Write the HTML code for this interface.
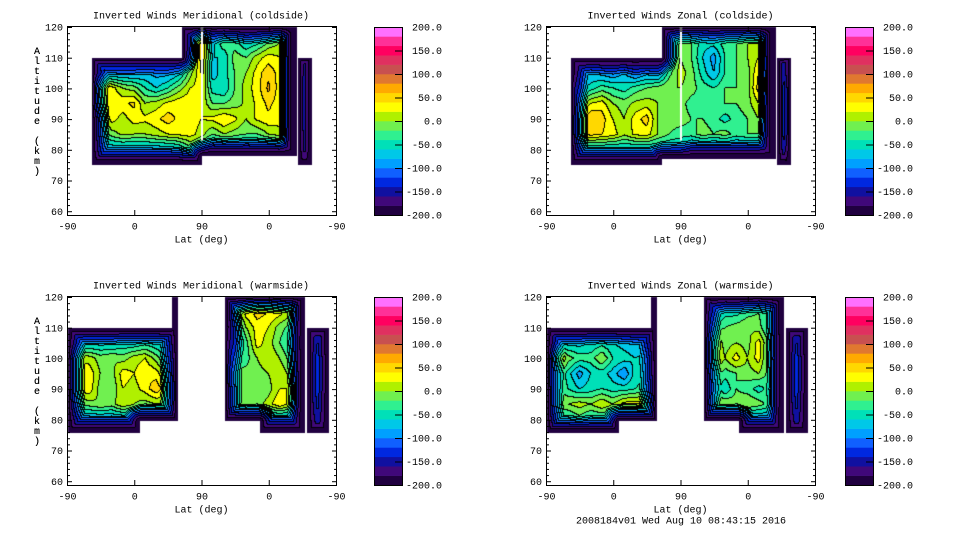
<!DOCTYPE html>
<html><head><meta charset="utf-8">
<style>
html,body{margin:0;padding:0;background:#fff;}
#root{position:relative;width:960px;height:540px;overflow:hidden;background:#fff;}
canvas{position:absolute;}
svg{position:absolute;left:0;top:0;}
text{font-family:"Liberation Mono","DejaVu Sans Mono",monospace;font-size:10px;fill:#000;}
</style></head>
<body>
<div id="root">
<canvas id="c1" width="270" height="189" style="left:67px;top:26px"></canvas>
<canvas id="c2" width="270" height="189" style="left:546px;top:26px"></canvas>
<canvas id="c3" width="270" height="189" style="left:67px;top:296px"></canvas>
<canvas id="c4" width="270" height="189" style="left:546px;top:296px"></canvas>
<svg id="ov" width="960" height="540"></svg>
</div>
<script>
const n = null;
const ALTS = [120,115,110,105,100,95,90,85,80,75];
const S_STEP = 15;
const LAT_LABELS = ['-90','0','90','0','-90'];
const Y_TICKS = [60,70,80,90,100,110,120];
const CB_LABELS = ['200.0','150.0','100.0','50.0','0.0','-50.0','-100.0','-150.0','-200.0'];
const BAND_COLORS = ['#200040','#40087a','#1010a0','#0028e0','#1060ff','#00a0ff','#00c8e8','#00e0b8','#30f090','#70f050','#b0f000','#ffff00','#ffd800','#ffaa00','#e07830','#c85050','#e03060','#ff0060','#ff3098','#ff70ff'];
const TITLES = ['Inverted Winds Meridional (coldside)','Inverted Winds Zonal (coldside)','Inverted Winds Meridional (warmside)','Inverted Winds Zonal (warmside)'];
const FOOTER = '2008184v01 Wed Aug 10 08:43:15 2016';

const seg1 = [[33,180,75,110],[154,180,77,120],[180,308,78,120],[309.5,327.5,75,110]];
const seg2 = [[33,155,75,110],[155,180,77,120],[180,308,77,120],[309.5,327.5,75,110]];
const seg3 = [[2,98,75.6,110],[98,149,79.7,110],[140,149,79.7,120],[212,258,79.7,120],[258,319,75.6,120],[321,351,75.6,110]];
const seg4 = [[2,98,75.6,110],[98,149,79.7,110],[140,149,79.7,120],[212,258,79.7,120],[258,319,75.6,120],[321,351,75.6,110]];

const grid1 = [
[n,n,n,n,n,n,n,n,n,n,-100,-100,20,-70,-60,-80,-110,-90,-80,-40,-150,-90,-110,n,n],
[n,n,n,n,n,n,n,n,n,n,-90,-100,50,-80,-30,-40,-70,-60,-30,-10,-150,-90,-110,n,n],
[n,n,-80,-80,-90,-90,-90,-100,-90,-90,-80,-60,40,-70,-70,-20,-30,0,20,10,-150,-80,-100,n,n],
[n,n,-60,-100,-100,-100,-100,-90,-100,-100,-80,-20,30,-80,-60,-30,-10,20,45,20,-150,-80,-100,n,n],
[n,n,50,50,20,-10,-20,-50,-70,-50,-20,10,20,-60,-70,-30,0,20,55,20,-150,-70,-100,n,n],
[n,n,20,25,30,25,35,-10,0,15,25,25,10,-30,-30,-20,-5,15,35,20,-150,-70,-100,n,n],
[n,n,-100,-40,20,0,20,15,25,40,25,25,10,15,30,15,-10,15,25,20,-150,-70,-100,n,n],
[n,n,-100,-60,-20,-5,-10,-10,0,10,15,20,0,-30,-10,-20,-30,-30,-10,0,-150,-80,-100,n,n],
[n,n,-100,-90,-90,-90,-90,-90,-90,-90,-80,-40,-60,-120,-110,-110,-120,-110,-110,-100,-150,-90,-100,n,n],
[n,n,-150,-150,-150,-150,-150,-150,-150,-150,-150,-150,-150,-150,-150,-150,-150,-150,-150,-150,-150,-150,-150,n,n]
];
const grid2 = [
[n,n,n,n,n,n,n,n,n,n,-100,-100,-20,-20,-40,-60,-50,-40,-20,-40,-150,-70,-50,n,n],
[n,n,n,n,n,n,n,n,n,n,-90,-60,-20,-30,-60,-60,-40,-30,-10,-10,-150,-70,-50,n,n],
[n,n,-130,-130,-130,-130,-130,-130,-130,-130,-130,-60,-10,-30,-70,-100,-50,-30,-10,10,-150,-70,-50,n,n],
[n,n,-120,-110,-90,-100,-110,-90,-120,-100,-110,-40,0,-20,-60,-90,-50,-30,-20,30,-150,-70,-50,n,n],
[n,n,10,-80,-60,-40,-50,-60,-40,-30,-20,-10,-10,-20,-40,-50,-30,-30,-20,40,-150,-60,30,n,n],
[n,n,-30,-20,10,20,-10,-20,-5,0,-10,-20,-20,-40,-40,-30,-30,-30,-20,10,-150,-60,30,n,n],
[n,n,-30,10,50,40,10,-10,20,40,-10,-20,-20,-30,-30,-40,-60,-40,-30,-10,-150,-60,30,n,n],
[n,n,-30,10,40,30,20,-5,15,20,-10,-30,-40,-40,-20,-30,-20,-40,-30,-30,-150,-60,30,n,n],
[n,n,-80,-80,-80,-80,-80,-80,-80,-80,-80,-80,-80,-120,-120,-120,-120,-120,-120,-120,-150,-80,-50,n,n],
[n,n,-150,-150,-150,-150,-150,-150,-150,-150,-150,-150,-150,-150,-150,-150,-150,-150,-150,-150,-150,-150,-150,n,n]
];
const grid3 = [
[n,n,n,n,n,n,n,n,n,-120,-120,n,n,n,-60,-80,-20,30,30,-20,-50,-140,n,n,n],
[n,n,n,n,n,n,n,n,n,-120,-120,n,n,n,-100,-30,20,40,30,20,0,-140,n,n,n],
[-120,-120,-120,-120,-120,-120,-120,-120,-120,-120,-120,n,n,n,-120,-80,-10,20,10,-20,-40,-140,-120,-120,n],
[-100,-90,-80,-80,-80,-70,-70,-60,-70,-80,-90,n,n,n,-40,-100,-40,20,0,-30,-60,-140,-110,-110,n],
[10,10,0,-20,-10,-20,0,10,-20,-60,-50,n,n,n,10,-60,-40,-10,10,-10,-40,-140,-90,-100,n],
[20,15,25,-10,-20,20,10,30,20,-20,-30,n,n,n,10,-20,-20,-20,-10,10,-20,-140,-90,-100,n],
[10,20,25,-20,-30,10,0,20,45,10,-10,n,n,n,-10,-30,-20,-30,-20,10,10,-140,-90,-100,n],
[-20,-30,-20,-10,-20,10,-10,-20,-10,-10,-20,n,n,n,-40,-30,-10,-20,0,30,0,-140,-100,-110,n],
[-100,-100,-100,-100,-100,-100,-100,-100,-100,-100,-100,n,n,n,-100,-100,-100,-100,-100,-100,-100,-140,-120,-120,n],
[-150,-150,-150,-150,-150,-150,-150,-150,-150,-150,-150,n,n,n,-150,-150,-150,-150,-150,-150,-150,-150,-150,-150,n]
];
const grid4 = [
[n,n,n,n,n,n,n,n,n,-120,-120,n,n,n,-80,-120,-90,-100,-80,-60,-100,-140,n,n,n],
[n,n,n,n,n,n,n,n,n,-120,-120,n,n,n,-60,-90,-60,-60,-40,-30,-60,-140,n,n,n],
[-120,-120,-120,-120,-120,-120,-120,-120,-120,-120,-120,n,n,n,-30,-40,-30,-20,-10,-20,-60,-140,-120,-120,n],
[-90,-80,-80,-80,-70,-60,-70,-80,-90,-100,-100,n,n,n,-10,20,-20,-10,-20,20,-40,-140,-110,-110,n],
[0,40,-20,-40,-40,-10,-50,-60,-70,-60,-70,n,n,n,-10,30,-10,20,-10,20,-50,-140,-90,-100,n],
[10,-20,-60,-100,-70,-60,-80,-110,-60,-50,-60,n,n,n,-20,-20,-40,-30,-20,-10,-40,-140,-90,-100,n],
[-10,-20,-50,-70,-60,-50,-60,-60,-50,-40,-40,n,n,n,-30,-30,-70,-30,-40,-60,-40,-140,-90,-100,n],
[-10,-20,-10,0,-10,10,-10,20,20,30,20,n,n,n,-20,-10,-10,-20,-10,-20,-40,-140,-100,-110,n],
[-60,-60,-60,-40,-60,-60,-60,-60,-60,-60,-60,n,n,n,-100,-100,-100,-100,-100,-100,-100,-140,-120,-120,n],
[-150,-150,-150,-150,-150,-150,-150,-150,-150,-150,-150,n,n,n,-150,-150,-150,-150,-150,-150,-150,-150,-150,-150,n]
];

const PANELS = [
 {id:'c1', x0:67, y0:26, grid:grid1, segs:seg1, gap:true, cbx:374, key:'meridional-coldside'},
 {id:'c2', x0:546, y0:26, grid:grid2, segs:seg2, gap:true, cbx:845, key:'zonal-coldside'},
 {id:'c3', x0:67, y0:296, grid:grid3, segs:seg3, gap:false, cbx:374, key:'meridional-warmside'},
 {id:'c4', x0:546, y0:296, grid:grid4, segs:seg4, gap:false, cbx:845, key:'zonal-warmside'}
];
const W = 269, H = 189, KPX = 3.07;
function sToX(s){ return s*W/360; }
function altToY(a){ return 1 + (120-a)*KPX; }

function sample(grid, s, alt){
  const nc = grid[0].length, nr = grid.length;
  let c = Math.max(0, Math.min(nc-1.0001, s/S_STEP));
  let r = Math.max(0, Math.min(nr-1.0001, (ALTS[0]-alt)/5));
  const c0 = Math.floor(c), r0 = Math.floor(r), fc = c-c0, fr = r-r0;
  let sw = 0, sv = 0;
  const pts = [[r0,c0,(1-fr)*(1-fc)],[r0,c0+1,(1-fr)*fc],[r0+1,c0,fr*(1-fc)],[r0+1,c0+1,fr*fc]];
  for (const [ri,ci,w] of pts){ const v = grid[ri][ci]; if (v!==null && w>0){ sw+=w; sv+=w*v; } }
  if (sw===0){
    for (const [ri,ci] of pts){ const v = grid[ri][ci]; if (v!==null) return v; }
    return -150;
  }
  return sv/sw;
}

function hex(h){ return [parseInt(h.substr(1,2),16),parseInt(h.substr(3,2),16),parseInt(h.substr(5,2),16)]; }
const RGB = BAND_COLORS.map(hex);

function drawPanel(p){
  const cv = document.getElementById(p.id), ctx = cv.getContext('2d');
  const CW = cv.width, CH = cv.height;
  const mask = new Uint8Array(CW*CH);
  for (let j=0;j<CH;j++) for (let i=0;i<CW;i++){
    const s = (i+0.5)*360/W, alt = 120 - (j+0.5-1)/KPX;
    for (const g of p.segs){ if (s>=g[0] && s<=g[1] && alt>=g[2] && alt<=g[3]){ mask[j*CW+i]=1; break; } }
  }
  const BIG = 1e6, d = new Float32Array(CW*CH);
  for (let k=0;k<CW*CH;k++) d[k] = mask[k]?BIG:0;
  const get=(i,j)=> (i<0||j<0||i>=CW||j>=CH)?BIG:d[j*CW+i];
  for (let j=0;j<CH;j++) for (let i=0;i<CW;i++){ const k=j*CW+i; if(!mask[k]) continue;
    d[k]=Math.min(d[k],get(i-1,j)+1,get(i,j-1)+1,get(i-1,j-1)+1.414,get(i+1,j-1)+1.414); }
  for (let j=CH-1;j>=0;j--) for (let i=CW-1;i>=0;i--){ const k=j*CW+i; if(!mask[k]) continue;
    d[k]=Math.min(d[k],get(i+1,j)+1,get(i,j+1)+1,get(i+1,j+1)+1.414,get(i-1,j+1)+1.414); }
  const band = new Int8Array(CW*CH).fill(-1);
  for (let j=0;j<CH;j++) for (let i=0;i<CW;i++){ const k=j*CW+i; if(!mask[k]) continue;
    const s = (i+0.5)*360/W, alt = 120 - (j+0.5-1)/KPX;
    let v = sample(p.grid, s, alt);
    const f = Math.min(1, d[k]/18);
    v = -205 + (v+215)*f;
    band[k] = Math.max(0, Math.min(19, Math.floor((v+200)/20)));
  }
  const img = ctx.createImageData(CW, CH);
  for (let j=0;j<CH;j++) for (let i=0;i<CW;i++){ const k=j*CW+i; const b=band[k]; if (b<0) continue;
    let col = RGB[b];
    const br = (i+1<CW)?band[k+1]:-1, bd = (j+1<CH)?band[k+CW]:-1;
    if ((br>=0 && br!==b) || (bd>=0 && bd!==b)) col=[0,0,0];
    img.data[k*4]=col[0]; img.data[k*4+1]=col[1]; img.data[k*4+2]=col[2]; img.data[k*4+3]=255;
  }
  ctx.putImageData(img,0,0);
  if (p.gap){ ctx.fillStyle='#fff'; ctx.fillRect(Math.round(sToX(180))-1, 0, 2, altToY(83)); }
}
PANELS.forEach(drawPanel);

const NS='http://www.w3.org/2000/svg', ov=document.getElementById('ov');
function mk(tag, attrs, parent){ const e=document.createElementNS(NS,tag); for (const k in attrs) e.setAttribute(k,attrs[k]); (parent||ov).appendChild(e); return e; }
function txt(x,y,s,anchor,parent){ const t=mk('text',{x:x,y:y,'text-anchor':anchor||'middle','dominant-baseline':'middle'},parent); t.textContent=s; return t; }

PANELS.forEach((p,pi)=>{
  const g = mk('g',{});
  
  
  const x0=p.x0, y0=p.y0;
  const box = mk('rect',{x:x0+0.5,y:y0+0.5,width:W,height:H,fill:'none',stroke:'#000','stroke-width':1},g);
  
  
  const title = txt(x0+W/2+(pi%2?0:-0.5), y0-10, TITLES[pi], 'middle', g);
  
  
  for (let a=60;a<=120;a+=2){
    const yy = y0 + altToY(a) + 0.5, len = (a%10===0)?5:3;
    mk('line',{x1:x0,x2:x0+len,y1:yy,y2:yy,stroke:'#000'},g);
    mk('line',{x1:x0+W+1,x2:x0+W+1-len,y1:yy,y2:yy,stroke:'#000'},g);
  }
  Y_TICKS.forEach(a=>{
    const t = txt(x0-4, y0+altToY(a)+1, String(a), 'end', g);
    
    
  });
  LAT_LABELS.forEach((l,k)=>{
    const xx = x0 + 0.5 + k*W/4;
    mk('line',{x1:xx,x2:xx,y1:y0+H,y2:y0+H-5,stroke:'#000'},g);
    mk('line',{x1:xx,x2:xx,y1:y0+1,y2:y0+6,stroke:'#000'},g);
    const t = txt(xx, y0+H+12, l, 'middle', g);
    
    
  });
  const xt = txt(x0+W/2, y0+H+25, 'Lat (deg)', 'middle', g);
  
  
  const yt = mk('text',{'text-anchor':'middle'},g);
  
  
  const chars = 'Altitude (km)'.split('');
  chars.forEach((c,ci)=>{ const ts=mk('tspan',{x:37,y:y0+28+ci*10},yt); ts.textContent=c===' '?'\u00a0':c; });
  const cb = mk('g',{});
  
  
  const cby = y0+1, cbh = 188, cbw = 28, bh = cbh/20;
  BAND_COLORS.forEach((c,bi)=>{
    const r = mk('rect',{x:p.cbx, y:cby + (19-bi)*bh, width:cbw, height:bh+0.3, fill:c},cb);
    
    
  });
  mk('rect',{x:p.cbx+0.5,y:cby+0.5,width:cbw,height:cbh,fill:'none',stroke:'#000'},cb);
  CB_LABELS.forEach((l,li)=>{
    const yy = cby + li*cbh/8;
    if (li>0 && li<8) mk('line',{x1:p.cbx+cbw-7,x2:p.cbx+cbw,y1:yy+0.5,y2:yy+0.5,stroke:'#000'},cb);
    const t = txt(p.cbx+cbw+40, yy+1, l, 'end', cb);
    
    
  });
});
const ft = txt(681, 521, FOOTER, 'middle');


</script>
</body></html>
